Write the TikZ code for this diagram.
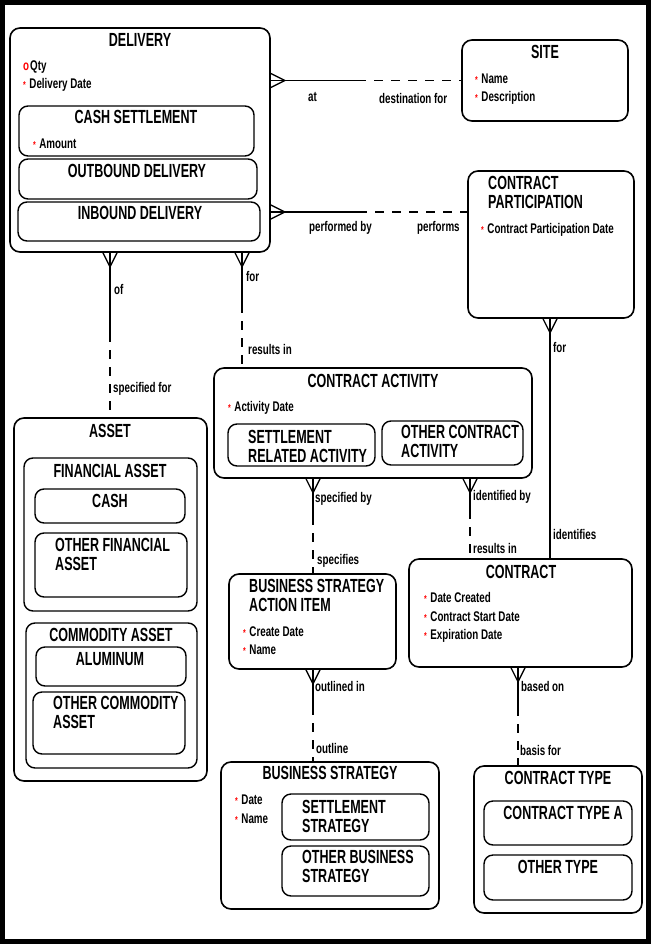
\documentclass[tikz,border=0pt]{standalone}
\usepackage{fontspec}
\setmainfont{Liberation Sans}[FakeStretch=0.7]
\newfontfamily\titlefont{Liberation Sans}[FakeStretch=0.66]
\usepackage{xcolor}
\usetikzlibrary{fit}

\newcommand{\mand}{\textcolor{red}{\fontsize{10}{10}\selectfont*}\hspace{3.5pt}}
\newcommand{\opt}{\textcolor{red}{o}\hspace{1pt}}

\tikzset{
  entity/.style={draw, line width=1.6pt, rounded corners=10pt, inner sep=0pt},
  subtype/.style={draw, line width=1.4pt, rounded corners=9pt, inner sep=0pt},
  title/.style={font=\titlefont\fontsize{19}{19}\selectfont\bfseries, inner sep=0pt},
  mtitle/.style={title, align=left, anchor=north west},
  attr/.style={font=\fontsize{14}{18}\selectfont\bfseries, inner sep=0pt, anchor=base west},
  lbl/.style={font=\fontsize{14}{18}\selectfont\bfseries, inner sep=0pt, anchor=base west},
  rel/.style={line width=1.3pt},
  optional/.style={rel, dash pattern=on 9pt off 8pt, dash phase=9pt},
  crow/.pic={\draw[rel] (0,-7) -- (14,0) -- (0,7);}
}

\begin{document}
\begin{tikzpicture}[x=1pt, y=-1pt]
        \useasboundingbox (0,0) rectangle (651,944);
        \draw[line width=5pt] (2.5,2.5) rectangle (648.5,941.5);

        % Define entities
        \node[entity, fit={(10,28) (270,252)}] (delivery) {};
        \node[subtype, fit={(19,106) (254,156)}] (cashsettle) {};
        \node[subtype, fit={(19,159) (257,199)}] (outbound) {};
        \node[subtype, fit={(18,202) (260,241)}] (inbound) {};
        \node[entity, fit={(462,40) (628,121)}] (site) {};
        \node[entity, fit={(468,171) (634,318)}] (partic) {};
        \node[entity, fit={(214,368) (532,478)}] (activity) {};
        \node[subtype, fit={(228,424) (375,466)}] (settleact) {};
        \node[subtype, fit={(382,421) (523,465)}] (otheract) {};
        \node[entity, fit={(14,418) (207,781)}] (asset) {};
        \node[subtype, fit={(24,458) (197,611)}] (finasset) {};
        \node[subtype, fit={(35,489) (185,523)}] (cash) {};
        \node[subtype, fit={(35,533) (187,597)}] (otherfin) {};
        \node[subtype, fit={(26,623) (197,768)}] (comasset) {};
        \node[subtype, fit={(36,647) (186,686)}] (aluminum) {};
        \node[subtype, fit={(33,692) (185,754)}] (othercom) {};
        \node[entity, fit={(229,574) (396,669)}] (actionitem) {};
        \node[entity, fit={(409,559) (632,667)}] (contract) {};
        \node[entity, fit={(221,762) (439,909)}] (strategy) {};
        \node[subtype, fit={(282,794) (429,840)}] (settlestrat) {};
        \node[subtype, fit={(282,846) (429,896)}] (otherstrat) {};
        \node[entity, fit={(474,766) (642,913)}] (contype) {};
        \node[subtype, fit={(484,801) (632,845)}] (contypea) {};
        \node[subtype, fit={(484,855) (632,900)}] (othertype) {};

        % Titles
        \node[title] (delivery-t) at (140,40) {DELIVERY};
        \node[title] (cashsettle-t) at (136,117) {CASH SETTLEMENT};
        \node[title] (outbound-t) at (137,171) {OUTBOUND DELIVERY};
        \node[title] (inbound-t) at (140,213) {INBOUND DELIVERY};
        \node[title] (site-t) at (545,52) {SITE};
        \node[mtitle] (partic-t) at (488,176.5) {CONTRACT\\PARTICIPATION};
        \node[title] (activity-t) at (373,381) {CONTRACT ACTIVITY};
        \node[mtitle] (settleact-t) at (248,430.5) {SETTLEMENT\\RELATED ACTIVITY};
        \node[mtitle] (otheract-t) at (401,425.5) {OTHER CONTRACT\\ACTIVITY};
        \node[title] (asset-t) at (110,431) {ASSET};
        \node[title] (finasset-t) at (110,471) {FINANCIAL ASSET};
        \node[title] (cash-t) at (110,501) {CASH};
        \node[mtitle] (otherfin-t) at (55,538.5) {OTHER FINANCIAL\\ASSET};
        \node[title] (comasset-t) at (111,635) {COMMODITY ASSET};
        \node[title] (aluminum-t) at (110,659) {ALUMINUM};
        \node[mtitle] (othercom-t) at (53,696.5) {OTHER COMMODITY\\ASSET};
        \node[mtitle] (actionitem-t) at (249,579.5) {BUSINESS STRATEGY\\ACTION ITEM};
        \node[title] (contract-t) at (521,572) {CONTRACT};
        \node[title] (strategy-t) at (330,773) {BUSINESS STRATEGY};
        \node[mtitle] (settlestrat-t) at (302,800.5) {SETTLEMENT\\STRATEGY};
        \node[mtitle] (otherstrat-t) at (302,850.5) {OTHER BUSINESS\\STRATEGY};
        \node[title] (contype-t) at (558,778) {CONTRACT TYPE};
        \node[title] (contypea-t) at (563,813) {CONTRACT TYPE A};
        \node[title] (othertype-t) at (558,867) {OTHER TYPE};

        % Attributes
        \node[attr] (delivery-a1) at (23,70.8) {\opt Qty};
        \node[attr] (delivery-a2) at (23,88.8) {\mand Delivery Date};
        \node[attr] (cashsettle-a1) at (33,148.8) {\mand Amount};
        \node[attr] (site-a1) at (475,83.8) {\mand Name};
        \node[attr] (site-a2) at (475,101.8) {\mand Description};
        \node[attr] (partic-a1) at (481,233.8) {\mand Contract Participation Date};
        \node[attr] (activity-a1) at (228,411.8) {\mand Activity Date};
        \node[attr] (actionitem-a1) at (243,636.8) {\mand Create Date};
        \node[attr] (actionitem-a2) at (243,654.8) {\mand Name};
        \foreach \t [count=\i] in {Date Created, Contract Start Date, Expiration Date}
            \node[attr] (contract-a\i) at (424,584.3+18.5*\i) {\mand\t};
        \node[attr] (strategy-a1) at (235,804.8) {\mand Date};
        \node[attr] (strategy-a2) at (235,823.8) {\mand Name};

        % Relationship midpoints (solid half / optional half)
        \coordinate (atmid) at (366,80.5);
        \coordinate (perfmid) at (367,212);
        \coordinate (ofmid) at (110,342);
        \coordinate (formid) at (242,313);
        \coordinate (specmid) at (313,525);
        \coordinate (identmid) at (470,519);
        \coordinate (outlmid) at (313,715);
        \coordinate (basemid) at (518,716);

        % Delivery at / destination for Site
        \draw[rel] (delivery.east |- atmid) -- (atmid);
        \draw[optional] (atmid) -- (site.west |- atmid);
        \pic at (delivery.east |- atmid) {crow};
        \node[lbl] (at-l) at (308,101.5) {at};
        \node[lbl] (dest-l) at (379,103.5) {destination for};

        % Delivery performed by / performs Contract Participation
        \draw[rel] (delivery.east |- perfmid) -- (perfmid);
        \draw[optional] (perfmid) -- (partic.west |- perfmid);
        \pic at (delivery.east |- perfmid) {crow};
        \node[lbl] (perf-l) at (309,231.5) {performed by};
        \node[lbl] (performs-l) at (417,231.5) {performs};

        % Delivery of / specified for Asset
        \draw[rel] (delivery.south -| ofmid) -- (ofmid);
        \draw[optional] (ofmid) -- (asset.north -| ofmid);
        \pic[rotate=-90] at (delivery.south -| ofmid) {crow};
        \node[lbl] (of-l) at (114,294.5) {of};
        \node[lbl] (specfor-l) at (113,392.5) {specified for};

        % Delivery for / results in Contract Activity
        \draw[rel] (delivery.south -| formid) -- (formid);
        \draw[optional] (formid) -- (activity.north -| formid);
        \pic[rotate=-90] at (delivery.south -| formid) {crow};
        \node[lbl] (for-l) at (246,281.5) {for};
        \node[lbl] (resin-l) at (248,354.5) {results in};

        % Contract Participation for / identifies Contract
        \draw[rel] (partic.south -| 550,0) -- (contract.north -| 550,0);
        \pic[rotate=-90] at (partic.south -| 550,0) {crow};
        \node[lbl] (pfor-l) at (553,352.5) {for};
        \node[lbl] (ident-l) at (553,539.5) {identifies};

        % Contract Activity specified by / specifies Action Item
        \draw[rel] (activity.south -| specmid) -- (specmid);
        \draw[optional] (specmid) -- (actionitem.north -| specmid);
        \pic[rotate=-90] at (activity.south -| specmid) {crow};
        \node[lbl] (specby-l) at (315,502.5) {specified by};
        \node[lbl] (specs-l) at (317,564.5) {specifies};

        % Contract Activity identified by / results in Contract
        \draw[rel] (activity.south -| identmid) -- (identmid);
        \draw[optional] (identmid) -- (contract.north -| identmid);
        \pic[rotate=-90] at (activity.south -| identmid) {crow};
        \node[lbl] (identby-l) at (473,500.5) {identified by};
        \node[lbl] (resin2-l) at (473,553.5) {results in};

        % Action Item outlined in / outline Business Strategy
        \draw[rel] (actionitem.south -| outlmid) -- (outlmid);
        \draw[optional] (outlmid) -- (strategy.north -| outlmid);
        \pic[rotate=-90] at (actionitem.south -| outlmid) {crow};
        \node[lbl] (outlin-l) at (315,691.5) {outlined in};
        \node[lbl] (outl-l) at (316,753.5) {outline};

        % Contract based on / basis for Contract Type
        \draw[rel] (contract.south -| basemid) -- (basemid);
        \draw[optional] (basemid) -- (contype.north -| basemid);
        \pic[rotate=-90] at (contract.south -| basemid) {crow};
        \node[lbl] (based-l) at (521,691.5) {based on};
        \node[lbl] (basis-l) at (520,755.5) {basis for};
    \end{tikzpicture}
\end{document}
